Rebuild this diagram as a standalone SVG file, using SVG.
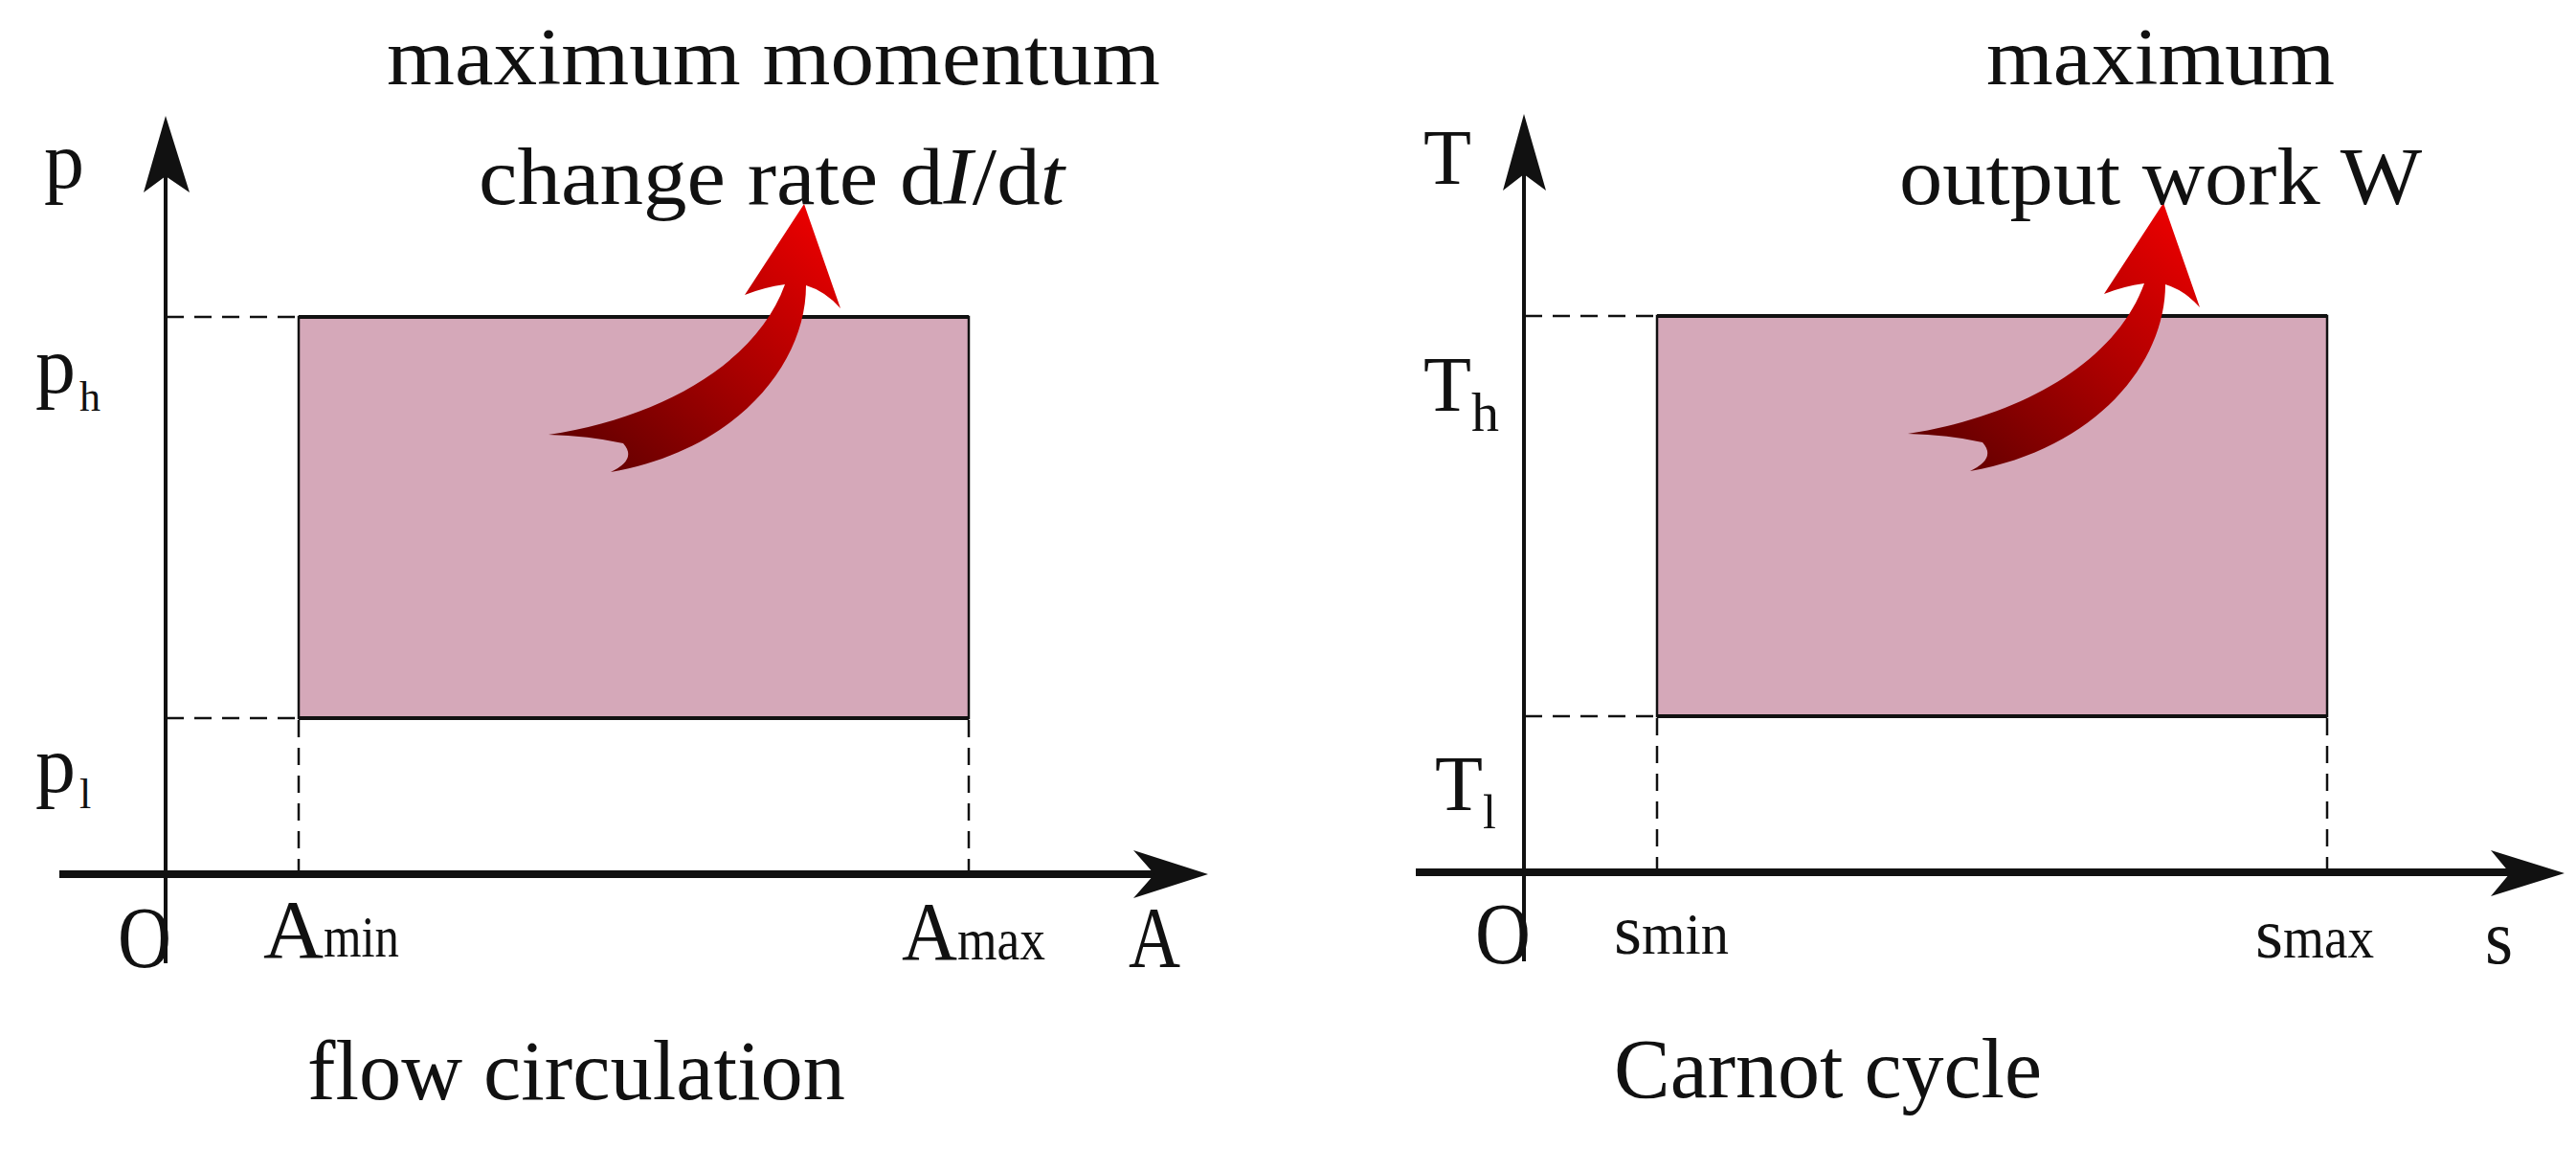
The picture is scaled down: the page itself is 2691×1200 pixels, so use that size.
<svg xmlns="http://www.w3.org/2000/svg" width="2691" height="1200" viewBox="0 0 2691 1200">
<style>
text{font-family:"Liberation Serif","Times New Roman",serif;fill:#111}
.big{font-size:84px}
.sub{font-size:62px}
.cap{font-size:88px}
.axis{stroke:#111;fill:none}
.dash{stroke:#111;stroke-width:2.5;stroke-dasharray:18 11;fill:none}
.area{fill:#d5a8b9;stroke:#111;stroke-width:2.5}
.edge{stroke:#111;stroke-width:4}
.head{fill:#111}
</style>
<defs>
<linearGradient id="rg" gradientUnits="userSpaceOnUse" x1="620" y1="480" x2="850" y2="230">
<stop offset="0" stop-color="#650000"/>
<stop offset="0.5" stop-color="#a80000"/>
<stop offset="1" stop-color="#e80000"/>
</linearGradient>
<path id="bend" d="M840 213 L878 322 Q862 304 842 298 C842 380 770 470 638 493 Q666 480 651 463 Q615 455 573 454 C690 436 790 380 820 297 Q798 300 778 308 Z"/>
</defs>

<g id="flow-circulation">
<g id="rect-left"><rect class="area" x="312" y="331" width="700" height="419"/>
<line class="edge" x1="312" y1="331" x2="1012" y2="331"/><line class="edge" x1="312" y1="750" x2="1012" y2="750"/></g>
<g id="connectors-left">
<line class="dash" x1="174" y1="331" x2="312" y2="331"/>
<line class="dash" x1="174" y1="750" x2="312" y2="750"/>
<line class="dash" x1="312" y1="752" x2="312" y2="912"/>
<line class="dash" x1="1012" y1="752" x2="1012" y2="912"/>
<line class="axis" stroke-width="4" x1="173" y1="1006" x2="173" y2="178"/>
<polygon class="head" points="173,121 198,201 173,184 150,201"/>
<line class="axis" stroke-width="8" x1="62" y1="913" x2="1210" y2="913"/>
<polygon class="head" points="1262,913 1184,888 1206,913 1184,938"/>
<use href="#bend" fill="url(#rg)"/>
</g>
<g id="labels-left">
<text class="big" x="404" y="88" textLength="808" lengthAdjust="spacingAndGlyphs">maximum momentum</text>
<text class="big" x="500" y="213" textLength="612" lengthAdjust="spacingAndGlyphs">change rate d<tspan font-style="italic">I</tspan>/d<tspan font-style="italic">t</tspan></text>
<text class="big" x="46" y="196">p</text>
<text class="big" x="37" y="410">p<tspan x="83" y="429" font-size="44">h</tspan></text>
<text class="big" x="37" y="827">p<tspan x="83" y="844" font-size="44">l</tspan></text>
<text x="123" y="1010" font-size="90" textLength="56" lengthAdjust="spacingAndGlyphs">O</text>
<text x="1179" y="1010" font-size="90" textLength="54" lengthAdjust="spacingAndGlyphs">A</text>
<text x="275" y="1000" font-size="86" textLength="63" lengthAdjust="spacingAndGlyphs">A</text>
<text class="sub" x="338" y="999" textLength="79" lengthAdjust="spacingAndGlyphs">min</text>
<text x="942" y="1002" font-size="86" textLength="58" lengthAdjust="spacingAndGlyphs">A</text>
<text class="sub" x="1000" y="1002" textLength="92" lengthAdjust="spacingAndGlyphs">max</text>
<text class="cap" x="321" y="1148" textLength="562" lengthAdjust="spacingAndGlyphs">flow circulation</text>
</g>
</g>

<g id="carnot-cycle">
<g id="rect-right"><rect class="area" x="1731" y="330" width="700" height="418"/>
<line class="edge" x1="1731" y1="330" x2="2431" y2="330"/><line class="edge" x1="1731" y1="748" x2="2431" y2="748"/></g>
<g id="connectors-right">
<line class="dash" x1="1593" y1="330" x2="1731" y2="330"/>
<line class="dash" x1="1593" y1="748" x2="1731" y2="748"/>
<line class="dash" x1="1731" y1="750" x2="1731" y2="910"/>
<line class="dash" x1="2431" y1="750" x2="2431" y2="910"/>
<line class="axis" stroke-width="4" x1="1592" y1="1004" x2="1592" y2="176"/>
<polygon class="head" points="1592,119 1615,199 1592,182 1570,199"/>
<line class="axis" stroke-width="8" x1="1479" y1="911" x2="2625" y2="911"/>
<polygon class="head" points="2679,912 2602,888 2622,912 2602,936"/>
<use href="#bend" fill="url(#rg)" transform="translate(1420,-1)"/>
</g>
<g id="labels-right">
<text class="big" x="2075" y="88" textLength="364" lengthAdjust="spacingAndGlyphs">maximum</text>
<text class="big" x="1984" y="213" textLength="546" lengthAdjust="spacingAndGlyphs">output work W</text>
<text x="1487" y="192" font-size="82" textLength="50" lengthAdjust="spacingAndGlyphs">T</text>
<text x="1487" y="429" font-size="82" textLength="50" lengthAdjust="spacingAndGlyphs">T</text>
<text x="1537" y="450" font-size="58">h</text>
<text x="1499" y="846" font-size="82" textLength="50" lengthAdjust="spacingAndGlyphs">T</text>
<text x="1549" y="865" font-size="50">l</text>
<text x="1541" y="1006" font-size="90" textLength="58" lengthAdjust="spacingAndGlyphs">O</text>
<text x="1686" y="996" font-size="74" textLength="29" lengthAdjust="spacingAndGlyphs">s</text>
<text class="sub" x="1715" y="996" textLength="91" lengthAdjust="spacingAndGlyphs">min</text>
<text x="2356" y="1000" font-size="74" textLength="29" lengthAdjust="spacingAndGlyphs">s</text>
<text class="sub" x="2385" y="1000" textLength="95" lengthAdjust="spacingAndGlyphs">max</text>
<text x="2596" y="1006" font-size="80" textLength="29" lengthAdjust="spacingAndGlyphs">s</text>
<text class="cap" x="1686" y="1146" textLength="447" lengthAdjust="spacingAndGlyphs">Carnot cycle</text>
</g>
</g>
</svg>
